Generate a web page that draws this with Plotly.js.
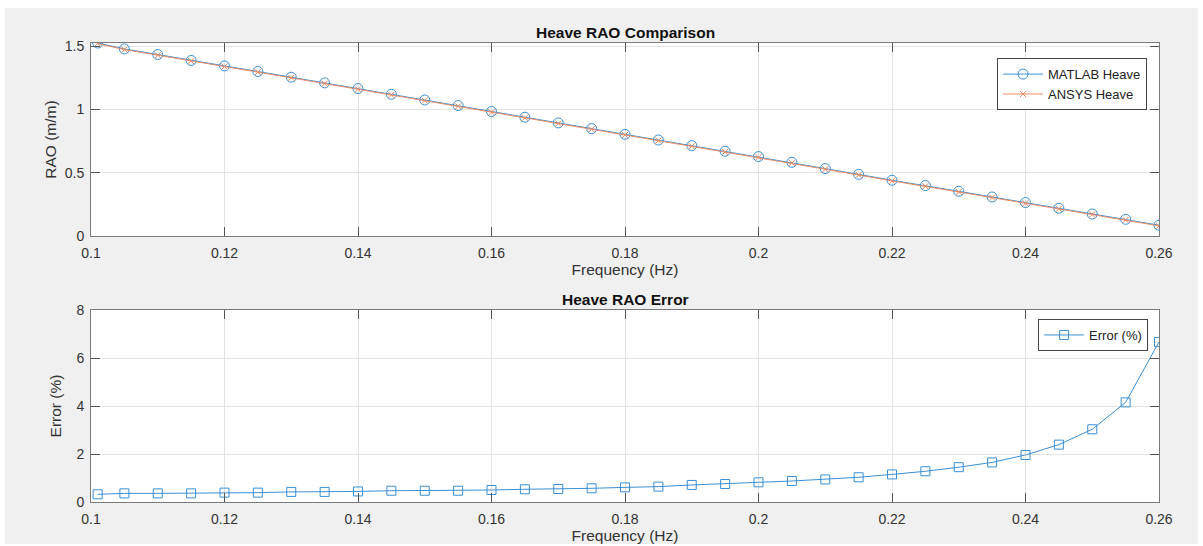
<!DOCTYPE html>
<html>
<head>
<meta charset="utf-8">
<script src="https://cdn.plot.ly/plotly-3.0.1.min.js"></script>
<style>
html,body{margin:0;padding:0;background:#ffffff;}
#chart{position:absolute;left:5px;top:8px;width:1193px;height:536px;}
</style>
</head>
<body>
<div id="chart"></div>
<script>
const freq = [0.101,0.105,0.110,0.115,0.120,0.125,0.130,0.135,0.140,0.145,0.150,0.155,0.160,0.165,0.170,0.175,0.180,0.185,0.190,0.195,0.200,0.205,0.210,0.215,0.220,0.225,0.230,0.235,0.240,0.245,0.250,0.255,0.260];
const matlabHeave = [1.524,1.477,1.433,1.386,1.343,1.299,1.254,1.209,1.164,1.119,1.074,1.030,0.983,0.938,0.893,0.848,0.803,0.758,0.714,0.669,0.627,0.582,0.532,0.487,0.440,0.398,0.353,0.308,0.264,0.219,0.174,0.132,0.085];
const ansysHeave  = [1.519,1.472,1.428,1.381,1.338,1.294,1.249,1.204,1.159,1.114,1.069,1.025,0.978,0.933,0.888,0.843,0.798,0.753,0.709,0.664,0.622,0.577,0.527,0.482,0.435,0.393,0.348,0.303,0.259,0.214,0.169,0.127,0.080];
const errorPct = [0.32,0.36,0.36,0.36,0.39,0.39,0.42,0.42,0.44,0.47,0.47,0.47,0.50,0.53,0.54,0.57,0.61,0.64,0.71,0.75,0.82,0.875,0.94,1.03,1.15,1.28,1.45,1.65,1.96,2.39,3.03,4.15,6.67];
const xTicks = [0.1,0.12,0.14,0.16,0.18,0.2,0.22,0.24,0.26];
const xTickText = ['0.1','0.12','0.14','0.16','0.18','0.2','0.22','0.24','0.26'];

const blue = '#3b8fd4';
const orange = '#ec8a63';
const font = 'Liberation Sans, Arial, Helvetica, sans-serif';

const traces = [
  {x: freq, y: matlabHeave, name: 'MATLAB Heave', type: 'scatter', mode: 'lines+markers',
   line: {color: blue, width: 1}, marker: {symbol: 'circle-open', size: 10, color: blue, line: {width: 1}},
   xaxis: 'x', yaxis: 'y', legend: 'legend'},
  {x: freq, y: ansysHeave, name: 'ANSYS Heave', type: 'scatter', mode: 'lines+markers',
   line: {color: orange, width: 1}, marker: {symbol: 'x-thin-open', size: 6, color: orange, line: {width: 1, color: orange}},
   xaxis: 'x', yaxis: 'y', legend: 'legend'},
  {x: freq, y: errorPct, name: 'Error (%)', type: 'scatter', mode: 'lines+markers',
   line: {color: blue, width: 1}, marker: {symbol: 'square-open', size: 9, color: blue, line: {width: 1}},
   xaxis: 'x2', yaxis: 'y2', legend: 'legend2'}
];

const axisCommon = {
  showline: true, mirror: 'ticks', linecolor: '#7a7a7a', linewidth: 1,
  ticks: 'inside', ticklen: 9, tickcolor: '#555555', tickwidth: 1,
  showgrid: true, gridcolor: '#e3e3e3', gridwidth: 1, zeroline: false,
  tickfont: {family: font, size: 14, color: '#333333'}
};
const titleFont = {family: font, size: 15.5, color: '#333333'};

const layout = {
  width: 1193, height: 536,
  paper_bgcolor: '#f0f0f0', plot_bgcolor: '#ffffff',
  margin: {l: 86, r: 39, t: 35, b: 42},
  showlegend: true,
  font: {family: font, color: '#262626'},
  xaxis: Object.assign({}, axisCommon, {domain: [0, 1], anchor: 'y', range: [0.1, 0.26],
    tickvals: xTicks, ticktext: xTickText, ticklabelstandoff: 4,
    title: {text: 'Frequency (Hz)', font: titleFont, standoff: 3}}),
  yaxis: Object.assign({}, axisCommon, {domain: [0.5795, 1], anchor: 'x', range: [0, 1.524],
    tickvals: [0, 0.5, 1, 1.5], ticktext: ['0', '0.5', '1', '1.5'], ticklabelstandoff: 3,
    title: {text: 'RAO (m/m)', font: titleFont, standoff: 4}}),
  xaxis2: Object.assign({}, axisCommon, {domain: [0, 1], anchor: 'y2', range: [0.1, 0.26],
    tickvals: xTicks, ticktext: xTickText, ticklabelstandoff: 4,
    title: {text: 'Frequency (Hz)', font: titleFont, standoff: 3}}),
  yaxis2: Object.assign({}, axisCommon, {domain: [0, 0.4183], anchor: 'x2', range: [0, 8],
    tickvals: [0, 2, 4, 6, 8], ticklabelstandoff: 3,
    title: {text: 'Error (%)', font: titleFont, standoff: 10}}),
  legend: {x: 0.9888, xanchor: 'right', y: 0.967, yanchor: 'top', bgcolor: '#ffffff',
    bordercolor: '#444444', borderwidth: 1, font: {family: font, size: 13, color: '#222222'},
    tracegroupgap: 0, itemwidth: 40},
  legend2: {x: 0.9898, xanchor: 'right', y: 0.3987, yanchor: 'top', bgcolor: '#ffffff',
    bordercolor: '#444444', borderwidth: 1, font: {family: font, size: 13, color: '#222222'},
    itemwidth: 40},
  annotations: [
    {text: '<b>Heave RAO Comparison</b>', xref: 'paper', yref: 'paper', x: 0.5, y: 1, yshift: 0,
     xanchor: 'center', yanchor: 'bottom', showarrow: false, font: {family: font, size: 15.5, color: '#111111'}},
    {text: '<b>Heave RAO Error</b>', xref: 'paper', yref: 'paper', x: 0.5, y: 0.4183, yshift: 0,
     xanchor: 'center', yanchor: 'bottom', showarrow: false, font: {family: font, size: 15.5, color: '#111111'}}
  ]
};

Plotly.newPlot('chart', traces, layout, {displayModeBar: false, staticPlot: true});
</script>
</body>
</html>
